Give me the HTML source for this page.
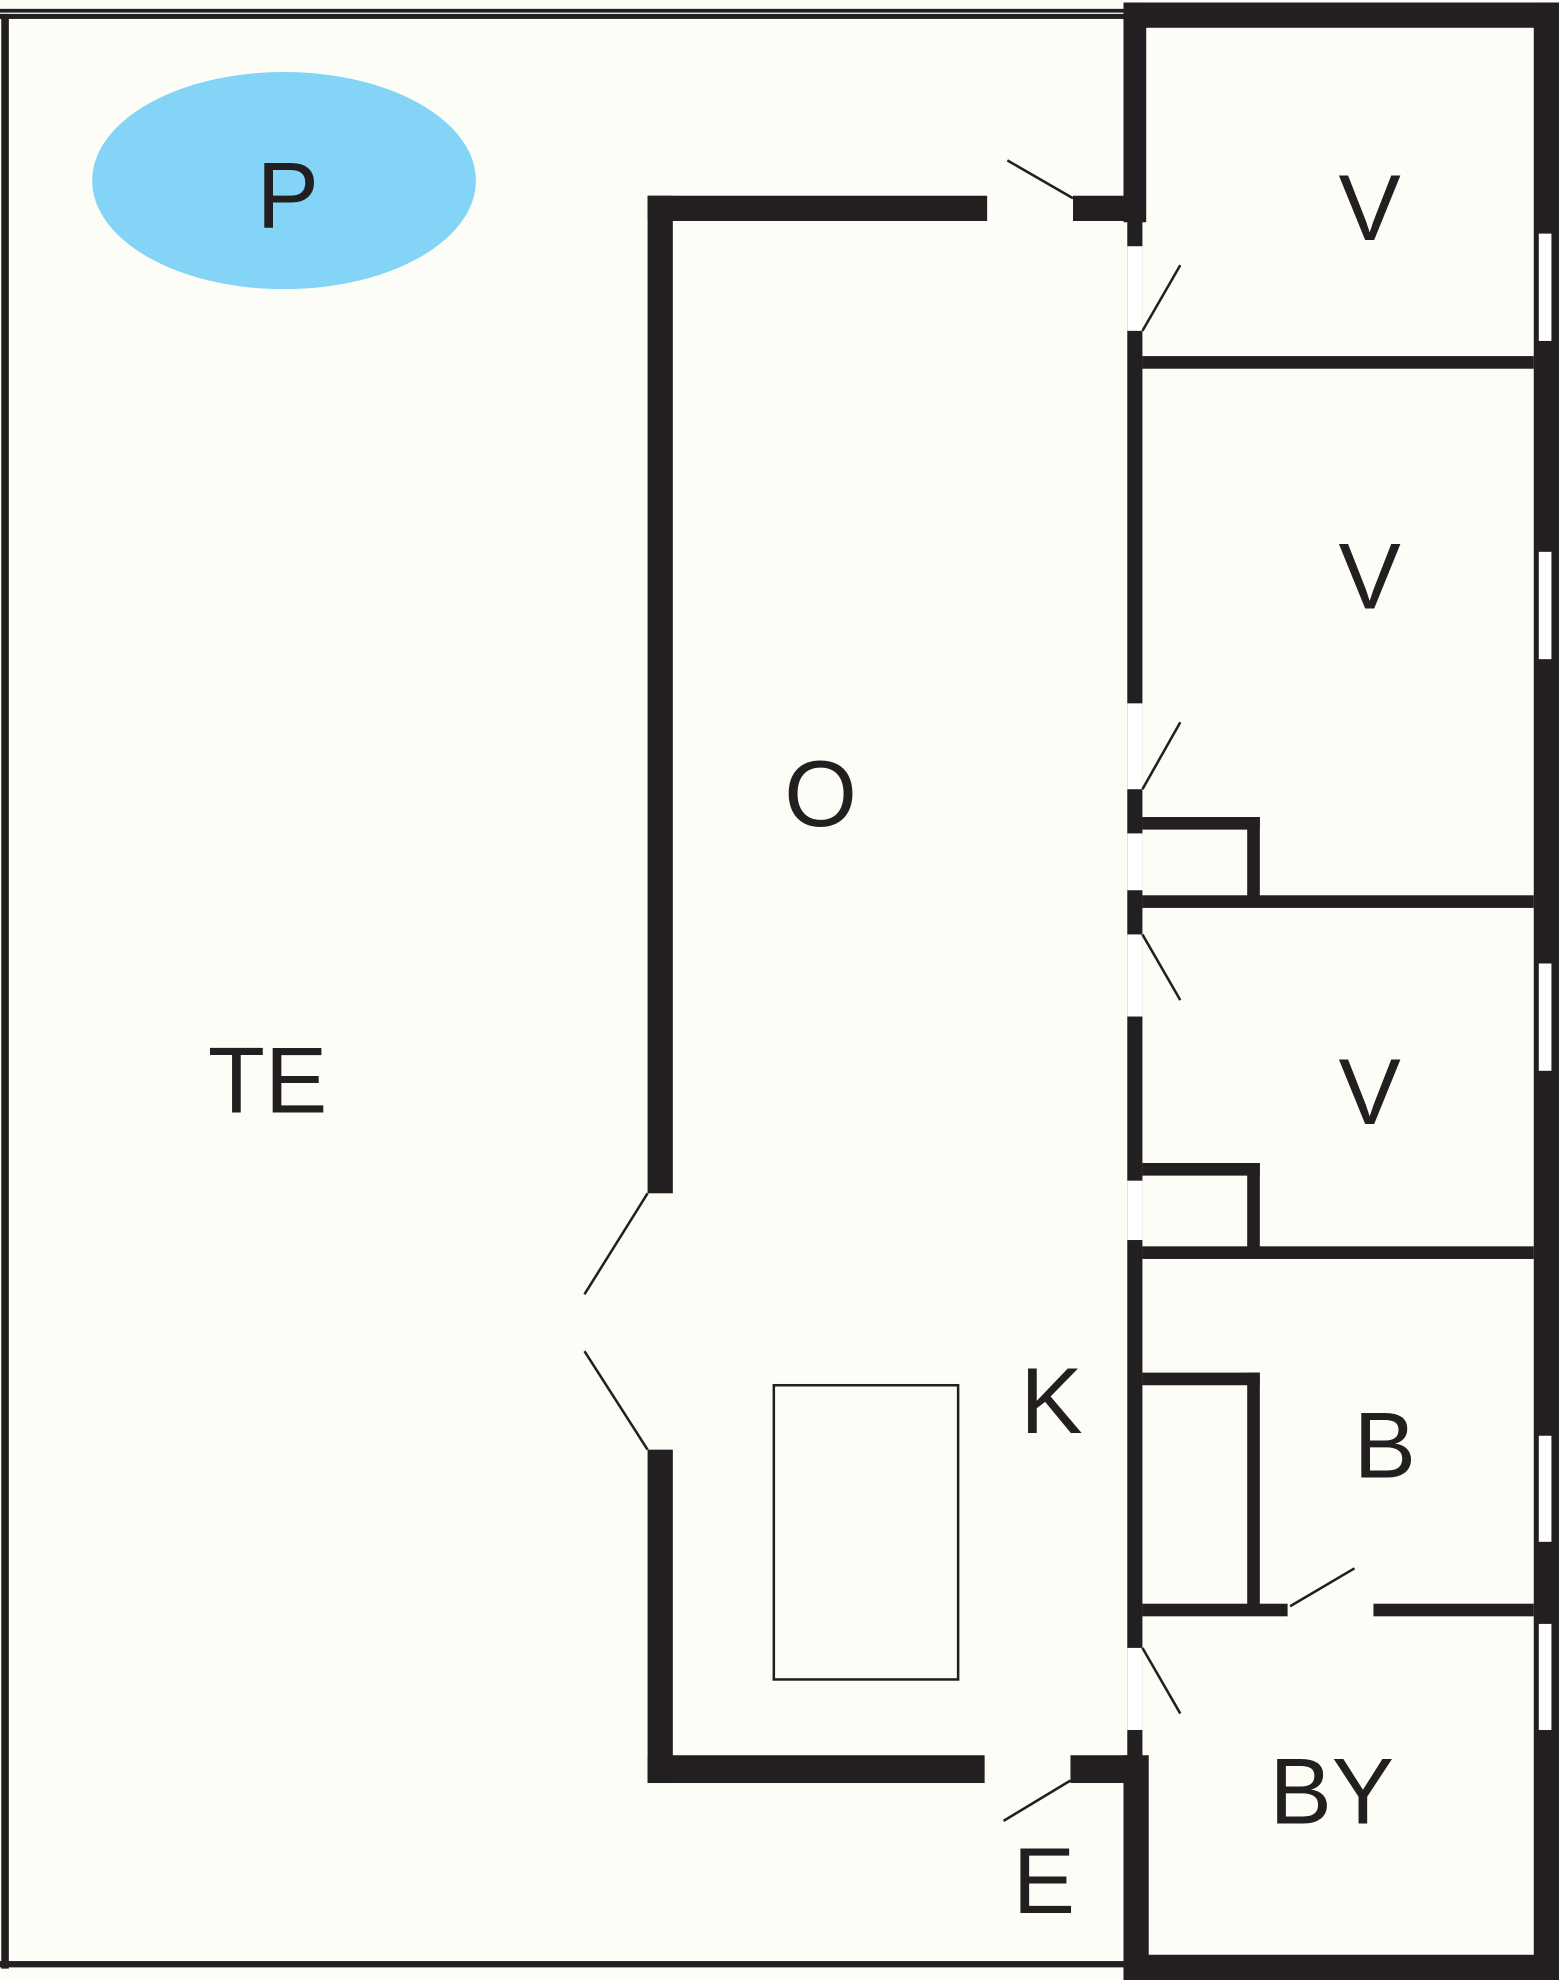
<!DOCTYPE html>
<html><head><meta charset="utf-8"><style>
html,body{margin:0;padding:0;background:#fdfdf8;}
svg{display:block;}
text{font-family:"Liberation Sans",sans-serif;fill:#231f20;}
</style></head><body>
<svg width="1559" height="1980" viewBox="0 0 1235 1568" preserveAspectRatio="none" xmlns="http://www.w3.org/2000/svg">
<rect x="0" y="0" width="1235" height="1568" fill="#fdfdf8"/>
<g fill="#231f20">
<!-- outer thin lines -->
<rect x="0" y="7" width="1235" height="3"/>
<rect x="0" y="11" width="892" height="4"/>
<rect x="1" y="11" width="6" height="1548"/>
<rect x="0" y="1553" width="892" height="5"/>
<!-- right block -->
<rect x="890" y="2" width="345" height="20"/>
<rect x="890" y="2" width="18" height="174"/>
<rect x="893" y="170" width="12" height="1230"/>
<rect x="890" y="1390" width="20" height="178"/>
<rect x="890" y="1548" width="345" height="20"/>
<rect x="1215" y="2" width="20" height="1566"/>
<!-- dividers -->
<rect x="905" y="282" width="310" height="10"/>
<rect x="905" y="709" width="310" height="10"/>
<rect x="905" y="987" width="310" height="10"/>
<rect x="905" y="1270" width="115" height="10"/>
<rect x="1088" y="1270" width="127" height="10"/>
<!-- closets -->
<rect x="905" y="647" width="93" height="10"/>
<rect x="988" y="647" width="10" height="65"/>
<rect x="905" y="921" width="93" height="10"/>
<rect x="988" y="921" width="10" height="70"/>
<rect x="905" y="1087" width="93" height="10"/>
<rect x="988" y="1087" width="10" height="188"/>
<rect x="899" y="1097" width="2" height="178"/>
<!-- O room walls -->
<rect x="513" y="155" width="20" height="790"/>
<rect x="513" y="1148" width="20" height="264"/>
<rect x="513" y="155" width="269" height="20"/>
<rect x="850" y="155" width="55" height="20"/>
<rect x="513" y="1390" width="267" height="22"/>
<rect x="848" y="1390" width="45" height="22"/>
</g>
<!-- white gaps / windows -->
<g fill="#ffffff">
<rect x="893" y="195" width="12" height="67"/>
<rect x="893" y="557" width="12" height="68"/>
<rect x="893" y="660" width="12" height="45"/>
<rect x="893" y="740" width="12" height="65"/>
<rect x="893" y="935" width="12" height="47"/>
<rect x="893" y="1305" width="12" height="65"/>
<rect x="1219" y="185" width="10" height="85"/>
<rect x="1219" y="437" width="10" height="85"/>
<rect x="1219" y="763" width="10" height="85"/>
<rect x="1219" y="1137" width="10" height="84"/>
<rect x="1219" y="1286" width="10" height="84"/>
</g>
<!-- door swings -->
<g stroke="#231f20" stroke-width="2" fill="none">
<line x1="850" y1="157" x2="798" y2="127"/>
<line x1="905" y1="262" x2="935" y2="210"/>
<line x1="905" y1="625" x2="935" y2="572"/>
<line x1="905" y1="740" x2="935" y2="792"/>
<line x1="905" y1="1305" x2="935" y2="1357"/>
<line x1="1022" y1="1272" x2="1073" y2="1242"/>
<line x1="513" y1="945" x2="463" y2="1025"/>
<line x1="513" y1="1148" x2="463" y2="1070"/>
<line x1="848" y1="1410" x2="795" y2="1442"/>
<rect x="613" y="1097" width="146" height="233"/>
</g>
<ellipse cx="225" cy="143" rx="152" ry="86" fill="#83d4f6"/>
<g font-size="74" text-anchor="middle">
<text x="228" y="180">P</text>
<text x="1085" y="190">V</text>
<text x="1085" y="482">V</text>
<text x="650" y="654">O</text>
<text x="212" y="881">TE</text>
<text x="1085" y="890">V</text>
<text x="833" y="1135">K</text>
<text x="1097" y="1170">B</text>
<text x="1055" y="1444">BY</text>
<text x="827" y="1515">E</text>
</g>
</svg>
</body></html>
